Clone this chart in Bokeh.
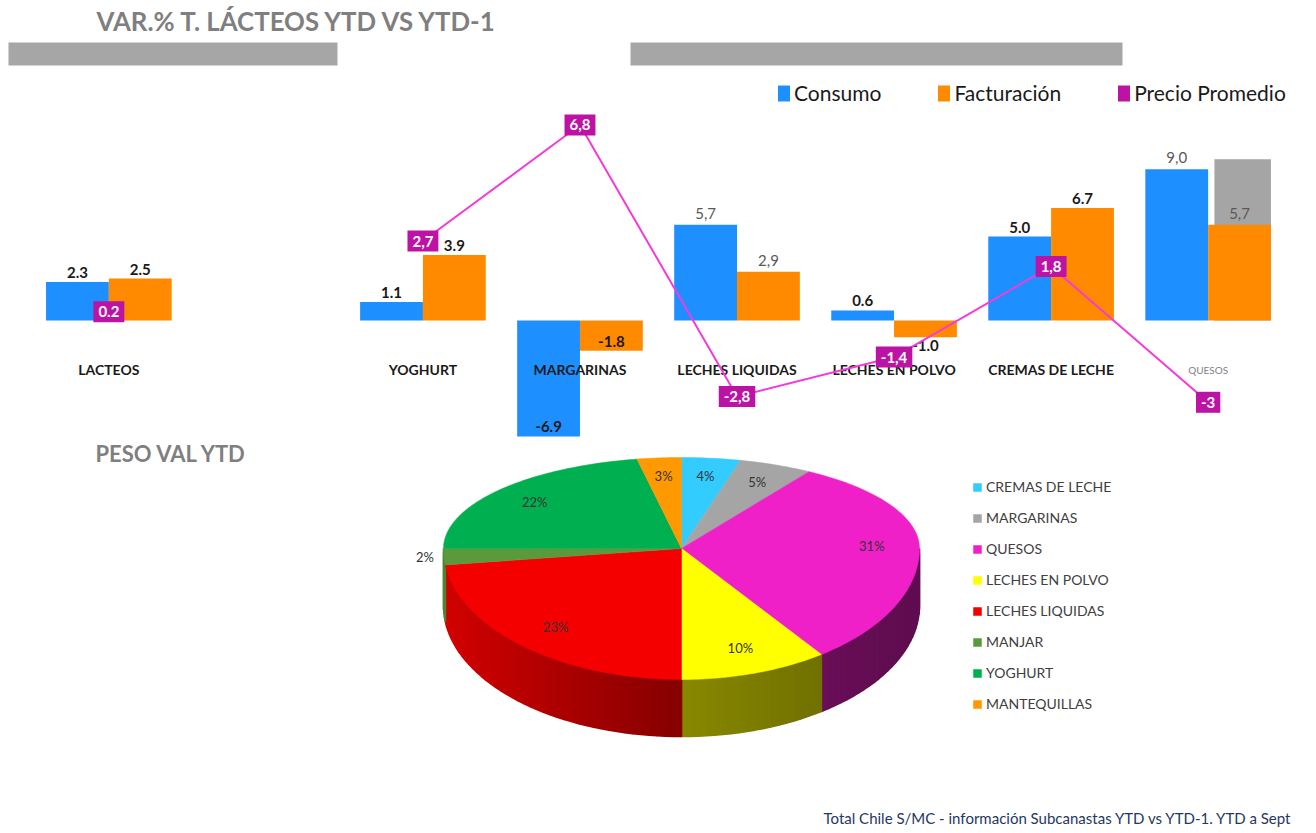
import numpy as np
from bokeh.plotting import figure
from bokeh.models import (ColumnDataSource, FactorRange, Range1d, Legend, LegendItem,
                          Label, BoxAnnotation)
from bokeh.layouts import column
from bokeh.transform import dodge
from bokeh.core.properties import value
from bokeh.embed import file_html
from bokeh.resources import INLINE

NAN = float("nan")

# ---------------- data: bar chart ----------------
categories = ["LACTEOS", "YOGHURT", "MARGARINAS", "LECHES LIQUIDAS",
              "LECHES EN POLVO", "CREMAS DE LECHE", "QUESOS"]
consumo = [2.3, 1.1, -6.9, 5.7, 0.6, 5.0, 9.0]
facturacion = [2.5, 3.9, -1.8, 2.9, -1.0, 6.7, 5.7]
consumo_labels = ["2.3", "1.1", "-6.9", "5,7", "0.6", "5.0", "9,0"]
facturacion_labels = ["2.5", "3.9", "-1.8", "2,9", "-1.0", "6.7", "5,7"]
gray_extra = [NAN, NAN, NAN, NAN, NAN, NAN, 9.6]
precio_promedio = [0.2, 2.7, 6.8, -2.8, -1.4, 1.8, -3.0]
precio_labels = ["0.2", "2,7", "6,8", "-2,8", "-1,4", "1,8", "-3"]

# ---------------- data: pie ----------------
pie_categories = ["CREMAS DE LECHE", "MARGARINAS", "QUESOS", "LECHES EN POLVO",
                  "LECHES LIQUIDAS", "MANJAR", "YOGHURT", "MANTEQUILLAS"]
pie_share = [4, 5, 31, 10, 23, 2, 22, 3]

FONT = "Lato"
BLUE = "#1E8FFF"
ORANGE = "#FF8A00"
PURPLE = "#BC13A4"
PINK = "#F53BD6"

W = 1316
H1 = 438
H2 = 395

# ======================= top figure: bars =======================
factors = [categories[0], " "] + categories[1:]
p1 = figure(width=W, height=H1,
            x_range=FactorRange(factors=factors, range_padding=0.19,
                                range_padding_units="absolute"),
            y_range=Range1d(-7.02, 19.05),
            output_backend="svg", toolbar_location=None,
            x_axis_location=None, y_axis_location=None,
            min_border=0, outline_line_color=None)
p1.grid.visible = False
p1.extra_y_ranges = {"precio": Range1d(-4.28, 11.2)}

# decorative grey header bars and title (screen units, y from bottom)
for left, right in ((8, 337), (630, 1122)):
    p1.add_layout(BoxAnnotation(left=left, right=right, bottom=373, top=396,
                                left_units="screen", right_units="screen",
                                bottom_units="screen", top_units="screen",
                                fill_color="#A6A6A6", fill_alpha=1, line_color=None))
p1.add_layout(Label(x=96, y=418, x_units="screen", y_units="screen",
                    text="VAR.% T. LÁCTEOS YTD VS YTD-1", text_font=FONT,
                    text_font_size="25.8px", text_font_style="bold",
                    text_color="#7F7F7F", text_baseline="middle"))

src = ColumnDataSource(dict(cat=categories, consumo=consumo,
                            facturacion=facturacion, gray=gray_extra))

p1.vbar(x=dodge("cat", 0.22, range=p1.x_range), top="gray", bottom=0, width=0.36,
        fill_color="#A5A5A5", line_color=None, source=src)
r_c = p1.vbar(x=dodge("cat", -0.2, range=p1.x_range), top="consumo", bottom=0,
              width=0.4, fill_color=BLUE, line_color=None, source=src)
r_f = p1.vbar(x=dodge("cat", 0.2, range=p1.x_range), top="facturacion", bottom=0,
              width=0.4, fill_color=ORANGE, line_color=None, source=src)
# zero-height bar only used as the legend swatch of "Precio Promedio"
r_pp = p1.vbar(x=[categories[0]], top=[0], bottom=[0], width=0.4,
               fill_color=PURPLE, line_color=None)


def label_source(vals, texts):
    d = dict(cat=[], y=[], text=[], color=[], style=[], baseline=[], yoff=[])
    for c, v, t in zip(categories, vals, texts):
        muted = "," in t
        d["cat"].append(c)
        d["y"].append(v)
        d["text"].append(t)
        d["color"].append("#595959" if muted else "#1A1A1A")
        d["style"].append("normal" if muted else "bold")
        if v >= 0:
            d["baseline"].append("bottom"); d["yoff"].append(-6 if muted else -4)
        elif v <= -1.5:
            d["baseline"].append("bottom"); d["yoff"].append(-4)
        else:
            d["baseline"].append("top"); d["yoff"].append(3)
    return ColumnDataSource(d)


for vals, texts, off in ((consumo, consumo_labels, -0.2),
                         (facturacion, facturacion_labels, 0.2)):
    p1.text(x=dodge("cat", off, range=p1.x_range), y="y", text="text",
            source=label_source(vals, texts), text_align="center",
            text_baseline="baseline", y_offset="yoff",
            text_color="color", text_font_style="style",
            text_font=value(FONT), text_font_size="15px")

# category labels
cat_style = ["bold"] * 6 + ["normal"]
cat_color = ["#1A1A1A"] * 6 + ["#7F7F7F"]
cat_size = ["14px"] * 6 + ["10px"]
p1.text(x="cat", y=-2.92, text="cat",
        source=ColumnDataSource(dict(cat=categories, style=cat_style,
                                     color=cat_color, size=cat_size)),
        text_align="center", text_baseline="middle", text_font=value(FONT),
        text_font_style="style", text_color="color", text_font_size="size")

# Precio Promedio line (secondary scale)
line_x = [categories[0], " "] + categories[1:]
line_y = [precio_promedio[0], NAN] + precio_promedio[1:]
p1.line(x=line_x, y=line_y, y_range_name="precio", line_color=PINK, line_width=2)
p1.text(x="cat", y="v", text="t", y_range_name="precio",
        source=ColumnDataSource(dict(cat=categories, v=precio_promedio, t=precio_labels)),
        text_align="center", text_baseline="middle", text_color="white",
        text_font=value(FONT), text_font_style="bold", text_font_size="15px",
        background_fill_color=PURPLE, padding=5)

legend1 = Legend(items=[LegendItem(label="Consumo", renderers=[r_c]),
                        LegendItem(label="Facturación", renderers=[r_f]),
                        LegendItem(label="Precio Promedio", renderers=[r_pp])],
                 orientation="horizontal", location=(776, 333),
                 glyph_width=15, glyph_height=20, label_height=20,
                 label_standoff=3, spacing=55, padding=0, margin=0,
                 border_line_color=None, background_fill_alpha=0,
                 label_text_font=FONT, label_text_font_size="21px",
                 label_text_color="#1A1A1A")
p1.add_layout(legend1)

# ======================= bottom figure: 3D pie =======================
p2 = figure(width=W, height=H2, x_range=Range1d(0, W), y_range=Range1d(H1 + H2, H1),
            output_backend="svg", toolbar_location=None,
            x_axis_location=None, y_axis_location=None,
            min_border=0, outline_line_color=None)
p2.grid.visible = False

pie_colors = ["#33CCFF", "#A5A5A5", "#F020C8", "#FFFF00",
              "#F50000", "#5B9A3C", "#00B050", "#FF9900"]
cx, cy, rx, ry_back, ry_front, depth = 681.0, 548.0, 238.0, 91.0, 131.0, 57.0


def edge(theta):
    theta = np.asarray(theta, float)
    ry = np.where(np.cos(theta) >= 0, ry_back, ry_front)
    return cx + rx * np.sin(theta), cy - ry * np.cos(theta)


def hex_rgb(h):
    h = h.lstrip("#")
    return [int(h[i:i + 2], 16) for i in (0, 2, 4)]


shares = np.array(pie_share, float)
bounds = np.concatenate([[0.0], np.cumsum(shares)]) / shares.sum() * 2 * np.pi

# sides (front half only), shaded from left to right
side_xs, side_ys, side_col = [], [], []
for i, col in enumerate(pie_colors):
    a, b = max(bounds[i], np.pi / 2), min(bounds[i + 1], 1.5 * np.pi)
    if a >= b:
        continue
    n = int(np.ceil((b - a) / np.radians(2.0))) + 1
    th = np.linspace(a, b, n)
    ex, ey = edge(th)
    base = hex_rgb(col)
    for k in range(n - 1):
        xm = 0.5 * (ex[k] + ex[k + 1])
        u = (xm - (cx - rx)) / (2 * rx)
        f = np.interp(u, [0, 0.52, 0.86, 1], [0.86, 0.53, 0.42, 0.40])
        side_col.append("#%02x%02x%02x" % tuple(int(c * f) for c in base))
        side_xs.append([ex[k], ex[k + 1], ex[k + 1], ex[k]])
        side_ys.append([ey[k], ey[k + 1], ey[k + 1] + depth, ey[k] + depth])
p2.patches(xs="xs", ys="ys", fill_color="c", line_color="c", line_width=1.6,
           source=ColumnDataSource(dict(xs=side_xs, ys=side_ys, c=side_col)))

# top face
top_xs, top_ys = [], []
for i in range(len(pie_share)):
    n = max(3, int(np.degrees(bounds[i + 1] - bounds[i])) + 2)
    th = np.linspace(bounds[i], bounds[i + 1], n)
    ex, ey = edge(th)
    top_xs.append([cx] + list(ex))
    top_ys.append([cy] + list(ey))
r_top = p2.patches(xs="xs", ys="ys", fill_color="c", line_color="c", line_width=0.5,
                   source=ColumnDataSource(dict(xs=top_xs, ys=top_ys, c=pie_colors,
                                                name=pie_categories)))

# percentage labels
mids = 0.5 * (bounds[:-1] + bounds[1:])
fr = np.where(shares <= 2, 1.08, 0.8)
lx = cx + rx * fr * np.sin(mids)
ly = cy - np.where(np.cos(mids) >= 0, ry_back, ry_front) * fr * np.cos(mids)
p2.text(x=lx, y=ly, text=["%d%%" % s for s in pie_share],
        text_align="center", text_baseline="middle", text_color="#333333",
        text_font=value(FONT), text_font_size="13px")

p2.text(x=[95], y=[453], text=["PESO VAL YTD"], text_align="left",
        text_baseline="middle", text_color="#7F7F7F", text_font=value(FONT),
        text_font_style="bold", text_font_size="22px")
p2.text(x=[823], y=[817], text=["Total Chile  S/MC - información Subcanastas YTD vs YTD-1. YTD a Sept"],
        text_align="left", text_baseline="middle", text_color="#1F3864",
        text_font=value(FONT), text_font_size="15px")

legend2 = Legend(items=[LegendItem(label=nm, renderers=[r_top], index=i)
                        for i, nm in enumerate(pie_categories)],
                 location=(972, 121), glyph_width=10, glyph_height=10,
                 label_height=10, spacing=14, label_standoff=4, padding=0, margin=0,
                 border_line_color=None, background_fill_alpha=0,
                 label_text_font=FONT, label_text_font_size="14px",
                 label_text_color="#404040")
p2.add_layout(legend2)

layout = column(p1, p2)
open("out.html", "w").write(file_html(layout, INLINE))
